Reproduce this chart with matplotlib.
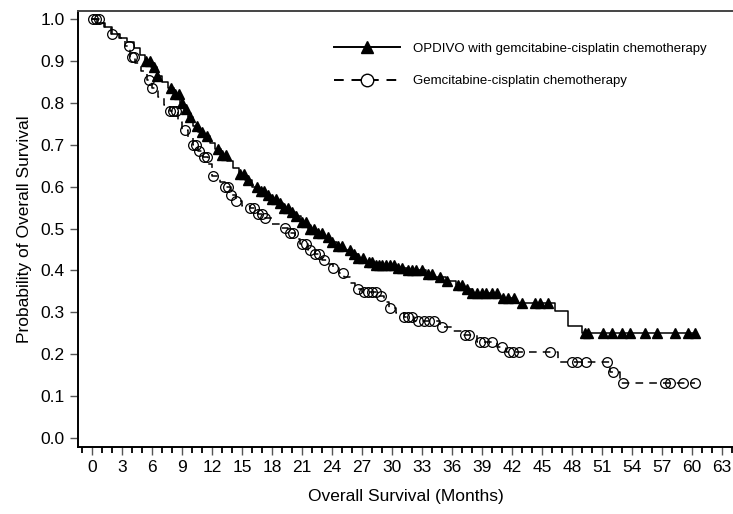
import numpy as np
import matplotlib.pyplot as plt
from matplotlib.lines import Line2D
from matplotlib.ticker import MultipleLocator, FormatStrFormatter

plt.rcParams['font.family'] = ['Liberation Sans', 'DejaVu Sans']

# OPDIVO + gemcitabine-cisplatin: KM step times (months) and survival after each step
opdivo_t = [0, 0.5, 1.2, 2.0, 2.8, 3.5, 4.2, 4.8, 5.3, 5.9, 6.5, 7.0, 7.6, 8.2, 8.8, 9.2,
            9.6, 10.1, 10.6, 11.2, 11.8, 12.3, 12.9, 13.5, 14.1, 14.7, 15.3, 16.0, 16.7,
            17.3, 17.9, 18.5, 19.1, 19.7, 20.3, 20.9, 21.6, 22.4, 23.2, 23.8, 24.5, 25.2,
            25.9, 26.6, 27.3, 28.2, 30.4, 31.5, 33.4, 34.2, 35.4, 36.4, 37.2, 38.0, 40.6,
            42.4, 46.3, 47.6, 49.0, 60.5]
opdivo_s = [1.0, 0.99, 0.98, 0.965, 0.955, 0.945, 0.93, 0.915, 0.90, 0.885, 0.865, 0.85,
            0.835, 0.82, 0.80, 0.785, 0.765, 0.745, 0.73, 0.72, 0.705, 0.69, 0.675, 0.66,
            0.645, 0.63, 0.615, 0.60, 0.59, 0.58, 0.57, 0.56, 0.55, 0.54, 0.53, 0.515, 0.50,
            0.49, 0.48, 0.468, 0.458, 0.45, 0.44, 0.43, 0.42, 0.412, 0.407, 0.40, 0.392,
            0.385, 0.375, 0.366, 0.355, 0.347, 0.335, 0.323, 0.304, 0.268, 0.251, 0.251]
opdivo_cens = [5.4, 5.8, 6.2, 6.5, 7.9, 8.3, 8.7, 9.0, 9.4, 9.8, 10.5, 11.0, 11.5, 12.6,
               13.0, 13.4, 14.8, 15.2, 15.6, 16.5, 16.9, 17.2, 17.6, 18.0, 18.4, 18.8, 19.2,
               19.6, 20.0, 20.4, 21.0, 21.4, 21.8, 22.2, 22.6, 23.0, 23.6, 24.0, 24.6, 25.0,
               25.8, 26.2, 26.6, 27.1, 27.7, 28.0, 28.4, 28.7, 29.0, 29.4, 29.8, 30.2, 30.6,
               31.0, 31.6, 32.0, 32.4, 33.0, 33.6, 34.0, 34.8, 35.5, 36.6, 37.0, 37.5, 38.0,
               38.5, 39.0, 39.4, 40.0, 40.5, 41.1, 41.6, 42.2, 43.0, 44.3, 44.8, 45.6, 49.3,
               49.6, 51.1, 52.0, 53.0, 53.8, 55.3, 56.5, 58.3, 59.6, 60.3]

# Gemcitabine-cisplatin alone
gc_t = [0, 0.8, 1.3, 1.9, 2.7, 3.3, 3.8, 4.3, 4.9, 5.5, 6.0, 6.6, 7.2, 7.8, 8.6, 9.0, 9.6,
        10.1, 10.6, 11.1, 11.6, 12.0, 12.8, 13.3, 13.9, 14.4, 15.0, 15.8, 16.6, 17.3, 18.0,
        18.8, 19.6, 20.3, 20.8, 21.6, 22.3, 23.0, 23.6, 24.1, 24.7, 25.2, 25.8, 26.3, 27.0,
        28.5, 29.2, 29.7, 30.4, 31.2, 32.2, 34.8, 36.0, 37.2, 38.5, 40.5, 41.4, 46.6, 51.8,
        52.8, 60.3]
gc_s = [1.0, 0.99, 0.98, 0.965, 0.955, 0.935, 0.91, 0.895, 0.875, 0.855, 0.835, 0.815,
        0.795, 0.78, 0.755, 0.735, 0.715, 0.70, 0.685, 0.67, 0.655, 0.625, 0.61, 0.598,
        0.58, 0.565, 0.555, 0.548, 0.535, 0.525, 0.512, 0.502, 0.49, 0.475, 0.462, 0.45,
        0.44, 0.425, 0.415, 0.405, 0.395, 0.385, 0.37, 0.355, 0.348, 0.338, 0.325, 0.31,
        0.298, 0.29, 0.28, 0.265, 0.255, 0.246, 0.23, 0.218, 0.206, 0.182, 0.158, 0.132,
        0.132]
gc_cens = [0.1, 0.4, 0.7, 2.0, 3.7, 4.0, 4.2, 5.7, 6.0, 7.8, 8.1, 8.4, 9.3, 10.1, 10.4,
           10.7, 11.2, 11.5, 12.1, 13.3, 13.6, 13.9, 14.4, 15.8, 16.2, 16.6, 17.0, 17.3,
           19.3, 19.8, 20.1, 21.0, 21.4, 21.8, 22.3, 22.7, 23.2, 24.1, 25.1, 26.6, 27.2,
           27.6, 28.0, 28.4, 28.9, 29.8, 31.2, 31.6, 32.0, 32.6, 33.2, 33.7, 34.2, 35.0,
           37.3, 37.7, 38.8, 39.2, 40.0, 41.0, 41.7, 42.1, 42.7, 45.8, 48.0, 48.5, 49.4,
           51.5, 52.1, 53.1, 57.3, 57.8, 59.1, 60.3]

labels = ['OPDIVO with gemcitabine-cisplatin chemotherapy',
          'Gemcitabine-cisplatin chemotherapy']


def surv_at(t, times, surv):
    idx = np.searchsorted(times, t, side='right') - 1
    return np.asarray(surv)[idx]


fig = plt.figure(figsize=(7.33, 5.14), dpi=100)
ax = fig.add_axes([0.1064, 0.1304, 0.8936, 0.8482])

ax.step(opdivo_t, opdivo_s, where='post', color='black', lw=1.1)
ax.plot(opdivo_cens, surv_at(opdivo_cens, opdivo_t, opdivo_s), '^', color='black',
        ms=7.5, mec='black', mfc='black', ls='none')

ax.step(gc_t, gc_s, where='post', color='black', lw=1.1, ls=(0, (5, 4)))
ax.plot(gc_cens, surv_at(gc_cens, gc_t, gc_s), 'o', ms=7, mec='black', mfc='none',
        mew=0.9, ls='none')

ax.set_xlim(-1.4, 64.1)
ax.set_ylim(-0.021, 1.019)
ax.xaxis.set_major_locator(MultipleLocator(3))
ax.xaxis.set_minor_locator(MultipleLocator(1))
ax.yaxis.set_major_locator(MultipleLocator(0.1))
ax.yaxis.set_major_formatter(FormatStrFormatter('%.1f'))
ax.tick_params(axis='both', which='major', labelsize=12.5, length=6, width=1, color='#555555')
ax.tick_params(axis='x', which='minor', length=4, width=1.3)
ax.spines['right'].set_visible(False)
for s in ['left', 'bottom', 'top']:
    ax.spines[s].set_linewidth(1.4)
ax.spines['top'].set_color('#444444')

ax.set_xlabel('Overall Survival (Months)', fontsize=12.5, labelpad=10)
ax.set_ylabel('Probability of Overall Survival', fontsize=12.5, labelpad=6)

handles = [
    Line2D([], [], color='black', lw=1.4, marker='^', ms=9, mfc='black'),
    Line2D([], [], color='black', lw=1.4, ls=(0, (5, 4)), marker='o', ms=9, mfc='white',
           mec='black'),
]
ax.legend(handles, labels, loc='upper left', bbox_to_anchor=(0.372, 0.955), frameon=False,
          fontsize=9.5, handlelength=5.0, handletextpad=1.0, labelspacing=1.55)

fig.savefig('out.png', dpi=100)
